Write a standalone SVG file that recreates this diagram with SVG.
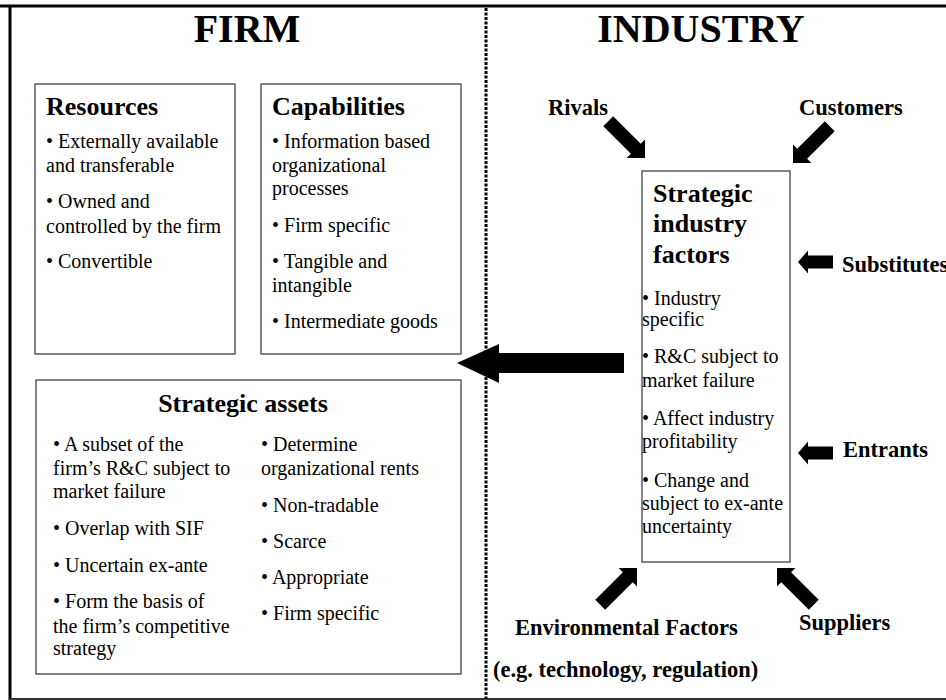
<svg xmlns="http://www.w3.org/2000/svg" width="946" height="700" viewBox="0 0 946 700">
  <style>
    text { font-family: "Liberation Serif", "Times New Roman", serif; fill: #000; }
    .head { font-size: 40px; font-weight: bold; text-anchor: middle; }
    .title { font-size: 26px; font-weight: bold; }
    .body { font-size: 20px; }
    .force { font-size: 22.5px; font-weight: bold; }
    .box { fill: #fff; stroke: #333; stroke-width: 1.2; }
    .arrow { fill: #000; }
  </style>
  <defs>
    <!-- block arrow, tip at origin, pointing along +x -->
    <path id="diag" d="M-52,-7 H-13 V-13 L0,0 L-13,13 V7 H-52 Z"/>
    <path id="side" d="M-35,-6.5 H-10 V-11.5 L0,0 L-10,11.5 V6.5 H-35 Z"/>
  </defs>

  <rect width="946" height="700" fill="#fff"/>

  <!-- frame -->
  <g id="frame">
    <line x1="0" y1="6" x2="946" y2="6" stroke="#000" stroke-width="3"/>
    <line x1="10" y1="5" x2="10" y2="700" stroke="#000" stroke-width="3"/>
    <line x1="9" y1="699" x2="946" y2="699" stroke="#333" stroke-width="2"/>
    <line x1="486" y1="8" x2="486" y2="699" stroke="#000" stroke-width="3" stroke-dasharray="3 1.5"/>
  </g>

  <g id="headings">
    <text class="head" x="247" y="42">FIRM</text>
    <text class="head" x="701" y="42">INDUSTRY</text>
  </g>

  <g id="resources">
    <rect class="box" x="35" y="84" width="200" height="270"/>
    <text class="title" x="46" y="115">Resources</text>
    <text class="body" x="46" y="148">• Externally available</text>
    <text class="body" x="46" y="172">and transferable</text>
    <text class="body" x="46" y="208">• Owned and</text>
    <text class="body" x="46" y="233">controlled by the firm</text>
    <text class="body" x="46" y="268">• Convertible</text>
  </g>

  <g id="capabilities">
    <rect class="box" x="261" y="84" width="200" height="270"/>
    <text class="title" x="272" y="115">Capabilities</text>
    <text class="body" x="272" y="148">• Information based</text>
    <text class="body" x="272" y="172">organizational</text>
    <text class="body" x="272" y="195">processes</text>
    <text class="body" x="272" y="232">• Firm specific</text>
    <text class="body" x="272" y="268">• Tangible and</text>
    <text class="body" x="272" y="292">intangible</text>
    <text class="body" x="272" y="328">• Intermediate goods</text>
  </g>

  <g id="strategic-assets">
    <rect class="box" x="36" y="380" width="425" height="294"/>
    <text class="title" x="243" y="412" text-anchor="middle">Strategic assets</text>
    <text class="body" x="53" y="451">• A subset of the</text>
    <text class="body" x="53" y="475">firm’s R&amp;C subject to</text>
    <text class="body" x="53" y="498">market failure</text>
    <text class="body" x="53" y="535">• Overlap with SIF</text>
    <text class="body" x="53" y="572">• Uncertain ex-ante</text>
    <text class="body" x="53" y="608">• Form the basis of</text>
    <text class="body" x="53" y="633">the firm’s competitive</text>
    <text class="body" x="53" y="655">strategy</text>
    <text class="body" x="261" y="451">• Determine</text>
    <text class="body" x="261" y="475">organizational rents</text>
    <text class="body" x="261" y="512">• Non-tradable</text>
    <text class="body" x="261" y="548">• Scarce</text>
    <text class="body" x="261" y="584">• Appropriate</text>
    <text class="body" x="261" y="620">• Firm specific</text>
  </g>

  <g id="sif">
    <rect class="box" x="642" y="171" width="148" height="391" stroke-width="1.5"/>
    <text class="title" x="653" y="202">Strategic</text>
    <text class="title" x="653" y="232">industry</text>
    <text class="title" x="653" y="263">factors</text>
    <text class="body" x="642" y="305">• Industry</text>
    <text class="body" x="642" y="326">specific</text>
    <text class="body" x="642" y="363">• R&amp;C subject to</text>
    <text class="body" x="642" y="387">market failure</text>
    <text class="body" x="642" y="425">• Affect industry</text>
    <text class="body" x="642" y="448">profitability</text>
    <text class="body" x="642" y="487">• Change and</text>
    <text class="body" x="642" y="510">subject to ex-ante</text>
    <text class="body" x="642" y="533">uncertainty</text>
  </g>

  <g id="forces">
    <text class="force" x="548" y="115">Rivals</text>
    <text class="force" x="799" y="115">Customers</text>
    <text class="force" x="842" y="272">Substitutes</text>
    <text class="force" x="843" y="457">Entrants</text>
    <text class="force" x="515" y="635">Environmental Factors</text>
    <text class="force" x="493" y="677">(e.g. technology, regulation)</text>
    <text class="force" x="799" y="630">Suppliers</text>
  </g>

  <g id="connectors">
    <polygon class="arrow" points="624,353 499,353 499,344 457,363 499,383 499,373 624,373"/>
    <use href="#diag" class="arrow" transform="translate(645,158) rotate(45)"/>
    <use href="#diag" class="arrow" transform="translate(793,163) rotate(135)"/>
    <use href="#side" class="arrow" transform="translate(798,262) rotate(180)"/>
    <use href="#side" class="arrow" transform="translate(798,453) rotate(180)"/>
    <use href="#diag" class="arrow" transform="translate(637,568) rotate(-45)"/>
    <use href="#diag" class="arrow" transform="translate(777,568) rotate(-135)"/>
  </g>
</svg>
